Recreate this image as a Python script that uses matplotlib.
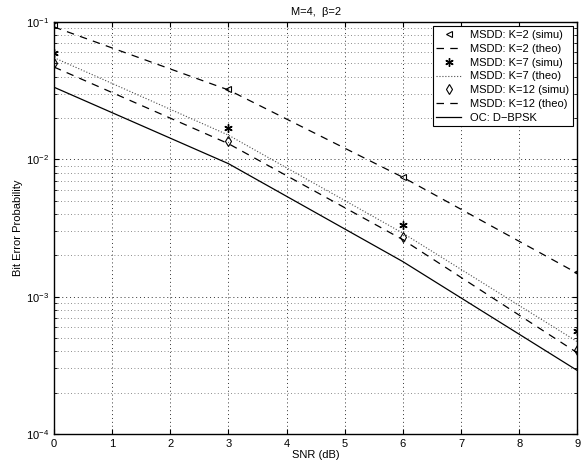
import numpy as np
import matplotlib.pyplot as plt

plt.rcParams['font.family'] = ['Liberation Sans', 'DejaVu Sans']
plt.rcParams['font.size'] = 8

snr = [0, 3, 6, 9]
k2_simu = [0.095, 0.0325, 0.0074, 0.0015]
k2_theo = [0.092, 0.0320, 0.0074, 0.00148]
k7_simu = [0.059, 0.0168, 0.0033, 0.00056]
k7_theo = [0.055, 0.0150, 0.0029, 0.00047]
k12_simu = [0.050, 0.0135, 0.0027, 0.00041]
k12_theo = [0.047, 0.0130, 0.0026, 0.00039]
oc = [0.0335, 0.0093, 0.0018, 0.00029]

fig = plt.figure(figsize=(5.84, 4.70), dpi=100)
ax = fig.add_axes([0.0925, 0.0766, 0.896, 0.8766])

ax.semilogy(snr, k2_simu, 'k<', mfc='none', ms=5, mew=0.8, linestyle='none', label='MSDD: K=2 (simu)')
ax.semilogy(snr, k2_theo, 'k--', lw=0.9, dashes=(6, 5), label='MSDD: K=2 (theo)')
ax.semilogy(snr, k7_simu, color='k', marker=(6, 2, 0), ms=6, mew=1.0, linestyle='none', label='MSDD: K=7 (simu)')
ax.semilogy(snr, k7_theo, 'k:', lw=0.8, color='0.3', label='MSDD: K=7 (theo)')
ax.semilogy(snr, k12_simu, 'kd', mfc='none', ms=5, mew=0.8, linestyle='none', label='MSDD: K=12 (simu)')
ax.semilogy(snr, k12_theo, 'k--', lw=0.9, dashes=(6, 5), label='MSDD: K=12 (theo)')
ax.semilogy(snr, oc, 'k-', lw=0.9, label='OC: D\u2212BPSK')

ax.set_xlim(0, 9)
ax.set_ylim(1e-4, 1e-1)
ax.set_xticks(range(10))
ax.grid(True, which='major', linestyle=(0, (1, 3)), color='0.2', lw=0.7)
ax.grid(True, which='minor', linestyle=(0, (1, 3)), color='0.4', lw=0.6)
ax.tick_params(which='both', direction='in', top=True, right=True)
for s in ax.spines.values():
    s.set_linewidth(1.0)

ax.set_xlabel('SNR (dB)', labelpad=1)
ax.set_ylabel('Bit Error Probability', labelpad=2)
ax.set_title('M=4,  \u03b2=2', fontsize=8, pad=5)

leg = ax.legend(loc='upper right', fontsize=8, fancybox=False, framealpha=1,
                edgecolor='k', borderpad=0.3, labelspacing=0.35, handlelength=2.3,
                borderaxespad=0.4)
leg.get_frame().set_linewidth(0.8)

fig.savefig('out.png', dpi=100)
